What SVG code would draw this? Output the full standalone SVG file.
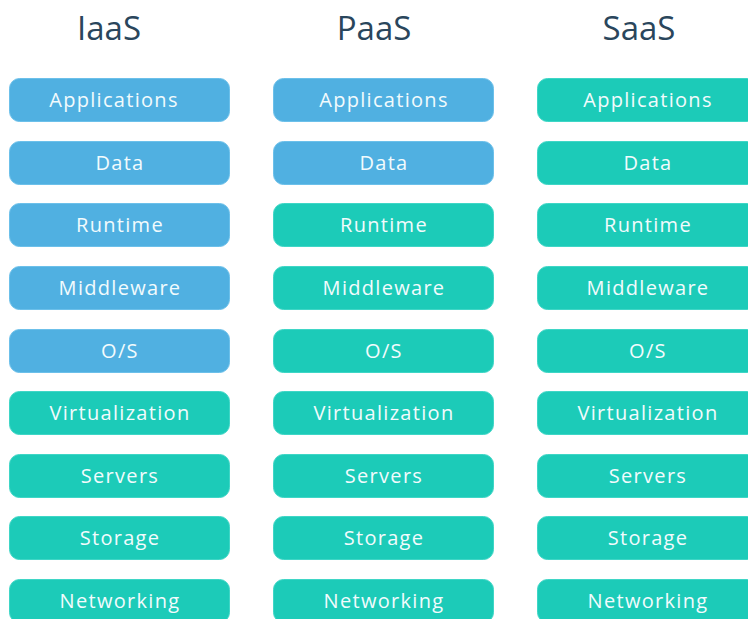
<svg xmlns="http://www.w3.org/2000/svg" width="748" height="619" viewBox="0 0 748 619">
<style>
.h{font-family:"Open Sans","Liberation Sans",sans-serif;font-size:33px;fill:#2a465c;text-anchor:middle}
.b rect{stroke-width:1}
.blue rect{fill:#50b0e1;stroke:#6cc0ea}
.teal rect{fill:#1ccbb8;stroke:#3fd6c6}
.b text{font-family:"Open Sans","Liberation Sans",sans-serif;font-size:20px;fill:#f2fbfd;text-anchor:middle;letter-spacing:1.3px}
</style>
<rect width="748" height="619" fill="#ffffff"/>
<g id="headers">
<text class="h" x="109" y="40">IaaS</text>
<text class="h" x="374" y="40">PaaS</text>
<text class="h" x="639" y="40">SaaS</text>
</g>
<g id="iaas">
<g id="iaas-applications" class="b blue"><rect x="9.5" y="78.5" width="220" height="43" rx="10"/><text x="114" y="107">Applications</text></g>
<g id="iaas-data" class="b blue"><rect x="9.5" y="141.5" width="220" height="43" rx="10"/><text x="120" y="170">Data</text></g>
<g id="iaas-runtime" class="b blue"><rect x="9.5" y="203.5" width="220" height="43" rx="10"/><text x="120" y="232">Runtime</text></g>
<g id="iaas-middleware" class="b blue"><rect x="9.5" y="266.5" width="220" height="43" rx="10"/><text x="120" y="295">Middleware</text></g>
<g id="iaas-os" class="b blue"><rect x="9.5" y="329.5" width="220" height="43" rx="10"/><text x="120" y="358">O/S</text></g>
<g id="iaas-virtualization" class="b teal"><rect x="9.5" y="391.5" width="220" height="43" rx="10"/><text x="120" y="420">Virtualization</text></g>
<g id="iaas-servers" class="b teal"><rect x="9.5" y="454.5" width="220" height="43" rx="10"/><text x="120" y="483">Servers</text></g>
<g id="iaas-storage" class="b teal"><rect x="9.5" y="516.5" width="220" height="43" rx="10"/><text x="120" y="545">Storage</text></g>
<g id="iaas-networking" class="b teal"><rect x="9.5" y="579.5" width="220" height="43" rx="10"/><text x="120" y="608">Networking</text></g>
</g>
<g id="paas">
<g id="paas-applications" class="b blue"><rect x="273.5" y="78.5" width="220" height="43" rx="10"/><text x="384" y="107">Applications</text></g>
<g id="paas-data" class="b blue"><rect x="273.5" y="141.5" width="220" height="43" rx="10"/><text x="384" y="170">Data</text></g>
<g id="paas-runtime" class="b teal"><rect x="273.5" y="203.5" width="220" height="43" rx="10"/><text x="384" y="232">Runtime</text></g>
<g id="paas-middleware" class="b teal"><rect x="273.5" y="266.5" width="220" height="43" rx="10"/><text x="384" y="295">Middleware</text></g>
<g id="paas-os" class="b teal"><rect x="273.5" y="329.5" width="220" height="43" rx="10"/><text x="384" y="358">O/S</text></g>
<g id="paas-virtualization" class="b teal"><rect x="273.5" y="391.5" width="220" height="43" rx="10"/><text x="384" y="420">Virtualization</text></g>
<g id="paas-servers" class="b teal"><rect x="273.5" y="454.5" width="220" height="43" rx="10"/><text x="384" y="483">Servers</text></g>
<g id="paas-storage" class="b teal"><rect x="273.5" y="516.5" width="220" height="43" rx="10"/><text x="384" y="545">Storage</text></g>
<g id="paas-networking" class="b teal"><rect x="273.5" y="579.5" width="220" height="43" rx="10"/><text x="384" y="608">Networking</text></g>
</g>
<g id="saas">
<g id="saas-applications" class="b teal"><rect x="537.5" y="78.5" width="220" height="43" rx="10"/><text x="648" y="107">Applications</text></g>
<g id="saas-data" class="b teal"><rect x="537.5" y="141.5" width="220" height="43" rx="10"/><text x="648" y="170">Data</text></g>
<g id="saas-runtime" class="b teal"><rect x="537.5" y="203.5" width="220" height="43" rx="10"/><text x="648" y="232">Runtime</text></g>
<g id="saas-middleware" class="b teal"><rect x="537.5" y="266.5" width="220" height="43" rx="10"/><text x="648" y="295">Middleware</text></g>
<g id="saas-os" class="b teal"><rect x="537.5" y="329.5" width="220" height="43" rx="10"/><text x="648" y="358">O/S</text></g>
<g id="saas-virtualization" class="b teal"><rect x="537.5" y="391.5" width="220" height="43" rx="10"/><text x="648" y="420">Virtualization</text></g>
<g id="saas-servers" class="b teal"><rect x="537.5" y="454.5" width="220" height="43" rx="10"/><text x="648" y="483">Servers</text></g>
<g id="saas-storage" class="b teal"><rect x="537.5" y="516.5" width="220" height="43" rx="10"/><text x="648" y="545">Storage</text></g>
<g id="saas-networking" class="b teal"><rect x="537.5" y="579.5" width="220" height="43" rx="10"/><text x="648" y="608">Networking</text></g>
</g>
<g id="connectors"/>
</svg>
